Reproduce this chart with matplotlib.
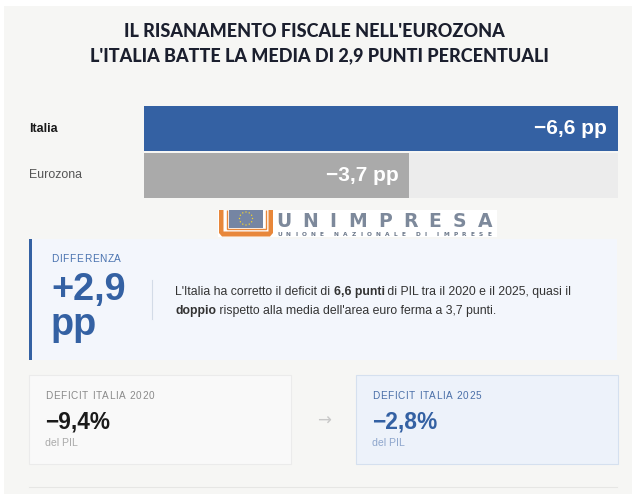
import matplotlib
matplotlib.use("Agg")
import matplotlib.pyplot as plt
import matplotlib.transforms as mtransforms
from matplotlib.patches import Rectangle, Polygon, Circle
from matplotlib import font_manager as fm
import numpy as np

# ---------------- data ----------------
title_lines = ["IL RISANAMENTO FISCALE NELL'EUROZONA",
               "L'ITALIA BATTE LA MEDIA DI 2,9 PUNTI PERCENTUALI"]
categories = ["Italia", "Eurozona"]
values = [-6.6, -3.7]            # correzione del deficit, punti di PIL
deficit_years = [2020, 2025]
deficit_values = [-9.4, -2.8]    # deficit Italia, % del PIL
diff_label = "DIFFERENZA"
unit = "pp"

def fmt(v, signed=False, dec=1):
    s = f"{v:+.{dec}f}" if signed else f"{v:.{dec}f}"
    return s.replace(".", ",").replace("-", "\u2212")

def has_font(name):
    try:
        fm.findfont(fm.FontProperties(family=name), fallback_to_default=False)
        return True
    except Exception:
        return False

SANS = "Liberation Sans" if has_font("Liberation Sans") else "DejaVu Sans"
TITLE_FONT = "Lato" if has_font("Lato") else SANS

# ---------------- colours ----------------
BLUE = "#3461a3"
PANEL = "#f6f6f4"
TRACK = "#ececec"
GREY_BAR = "#aaaaaa"

fig = plt.figure(figsize=(6.4, 5.03), dpi=100)
fig.patch.set_facecolor("white")
bg = fig.add_axes([0, 0, 1, 1])
bg.set_xlim(0, 640)
bg.set_ylim(503, 0)
bg.axis("off")
renderer = fig.canvas.get_renderer()


def width_of(t):
    return t.get_window_extent(renderer).width


def fit_text(x, y, s, target_w, base=10, **kw):
    t = bg.text(x, y, s, fontsize=base, **kw)
    w = width_of(t)
    t.set_fontsize(base * target_w / w)
    return t


def spaced_text(x, y, s, target_w, size, **kw):
    ts, ws = [], []
    for ch in s:
        if ch == " ":
            ts.append(None)
            ws.append(size * 100 / 72 * 0.28)
        else:
            t = bg.text(0, y, ch, fontsize=size, ha="left", **kw)
            ts.append(t)
            ws.append(width_of(t))
    gap = (target_w - sum(ws)) / max(len(s) - 1, 1)
    cx = x
    for t, w in zip(ts, ws):
        if t is not None:
            t.set_x(cx)
        cx += w + gap


def draw_runs(x, y, runs, size, color, dry=False):
    cx = x
    for txt, bold in runs:
        t = bg.text(cx, y, txt, fontsize=size, family=SANS, color=color,
                    fontweight="bold" if bold else "normal", ha="left", va="baseline")
        w = width_of(t)
        if dry:
            t.remove()
        cx += w
    return cx - x

# ---------------- panel ----------------
bg.add_patch(Rectangle((4, 6), 628, 488, facecolor=PANEL, edgecolor="none", zorder=0))

# ---------------- title ----------------
t2 = fit_text(319, 61, title_lines[1], 455, family=TITLE_FONT, fontweight="black",
              color="#1b1f2e", ha="center", va="baseline")
bg.text(314, 37, title_lines[0], fontsize=t2.get_fontsize(), family=TITLE_FONT,
        fontweight="black", color="#1b1f2e", ha="center", va="baseline")

# ---------------- bars ----------------
mags = [abs(v) for v in values]
vmax = max(mags)
ax = fig.add_axes([144 / 640, 1 - 199 / 503, (617.5 - 144) / 640, 94 / 503])
ax.set_xlim(0, vmax)
ax.set_ylim(len(categories) - 0.5, -0.5)
ax.axis("off")
ypos = np.arange(len(categories))
ax.barh(ypos, [vmax] * len(categories), height=0.96, color=TRACK, zorder=1)
ax.barh(ypos, mags, height=0.96, color=[BLUE, GREY_BAR], zorder=2)

lab_tr = mtransforms.blended_transform_factory(bg.transData, ax.transData)
for i, c in enumerate(categories):
    bg.text(29, i, c, transform=lab_tr, ha="left", va="center", family=SANS,
            fontsize=8.9, fontweight="bold" if i == 0 else "normal",
            color="#1a1a1a" if i == 0 else "#555555")

off_tr = mtransforms.offset_copy(ax.transData, fig=fig, x=-11, y=0, units="dots")
vlabels = []
for i, v in enumerate(values):
    t = ax.text(mags[i], i, f"{fmt(v)} {unit}", transform=off_tr, ha="right",
                va="center", family=SANS, fontweight="bold", color="white",
                fontsize=15, zorder=3)
    vlabels.append(t)
w0 = width_of(vlabels[0])
for t in vlabels:
    t.set_fontsize(15 * 73 / w0)

# ---------------- logo ----------------
bg.add_patch(Rectangle((218, 210), 279, 27, facecolor="white", edgecolor="none", zorder=2))
bg.add_patch(Polygon([(219, 210), (219, 233), (222, 236.5), (270, 236.5), (273, 233),
                      (273, 210), (268.5, 210), (268.5, 231.5), (223.5, 231.5), (223.5, 210)],
                     closed=True, facecolor="#e8873a", edgecolor="none", zorder=3))
bg.add_patch(Polygon([(226.5, 210), (226.5, 229), (265.5, 229), (265.5, 210)], closed=False,
                     fill=False, edgecolor="#e8873a", lw=1.0, zorder=3))
bg.add_patch(Rectangle((229, 210), 34, 17.5, facecolor="#7585a3", edgecolor="none", zorder=4))
ang = np.linspace(0, 2 * np.pi, 12, endpoint=False)
for a in ang:
    bg.add_patch(Circle((246 + 6.5 * np.cos(a), 218.5 + 6.5 * np.sin(a)), 0.7,
                        facecolor="#f3d230", edgecolor="none", zorder=5))
spaced_text(276, 227, "UNIMPRESA", 216, 13.5, family="DejaVu Sans", fontweight="bold",
            color="#7d899b", va="baseline", zorder=5)
spaced_text(277, 236, "UNIONE NAZIONALE DI IMPRESE", 214, 4.2, family="DejaVu Sans",
            fontweight="bold", color="#6d798b", va="baseline", zorder=5)

# ---------------- difference box ----------------
bg.add_patch(Rectangle((29, 239), 588, 121, facecolor="#f3f6fc", edgecolor="none", zorder=1))
bg.add_patch(Rectangle((29, 239), 3, 121, facecolor=BLUE, edgecolor="none", zorder=2))
spaced_text(51, 262.5, diff_label, 70, 7.3, family=SANS, color="#4a73b0", va="baseline")
diff = mags[0] - mags[1]
bt = fit_text(51, 300, fmt(diff, signed=True), 75, family=SANS, fontweight="bold",
              color=BLUE, ha="left", va="baseline")
bg.text(51, 335, unit, fontsize=bt.get_fontsize(), family=SANS, fontweight="bold",
        color=BLUE, ha="left", va="baseline")
bg.plot([152, 152], [280, 319], color="#d3dbe7", lw=0.8)

line1 = [("L'Italia ha corretto il deficit di ", False), (f"{fmt(mags[0])} punti", True),
         (" di PIL tra il 2020 e il 2025, quasi il", False)]
line2 = [("doppio", True), (f" rispetto alla media dell'area euro ferma a {fmt(mags[1])} punti.", False)]
w = draw_runs(175, 295, line1, 10, "#333333", dry=True)
psize = 10 * 398 / w
draw_runs(175, 295, line1, psize, "#333333")
draw_runs(175, 314, line2, psize, "#333333")

# ---------------- cards ----------------
cards = [(29, "#f9f9f9", "#ebebeb", "#8a8a8a", "#1a1a1a", "#aaaaaa"),
         (356, "#edf2fa", "#d5e0ef", "#4a6fa8", BLUE, "#8ea6cc")]
for (x0, face, edge, lc, vc, sc), yr, dv in zip(cards, deficit_years, deficit_values):
    bg.add_patch(Rectangle((x0, 375), 261.5, 89, facecolor=face, edgecolor=edge, lw=0.8, zorder=1))
    spaced_text(x0 + 16, 399, f"DEFICIT ITALIA {yr}", 109, 7.2, family=SANS, color=lc,
                va="baseline")
    vt = fit_text(x0 + 16, 429, f"{fmt(dv)}%", 65, family=SANS, fontweight="bold",
                  color=vc, ha="left", va="baseline")
    bg.text(x0 + 16, 446, "del PIL", fontsize=7.6, family=SANS, color=sc,
            ha="left", va="baseline")
bg.text(324, 421, "\u2192", fontsize=12, family="DejaVu Sans", color="#c8c8c8",
        ha="center", va="center")
bg.plot([29, 617], [487, 487], color="#e6e6e4", lw=0.8)

fig.savefig("out.png", dpi=100, facecolor="white")
